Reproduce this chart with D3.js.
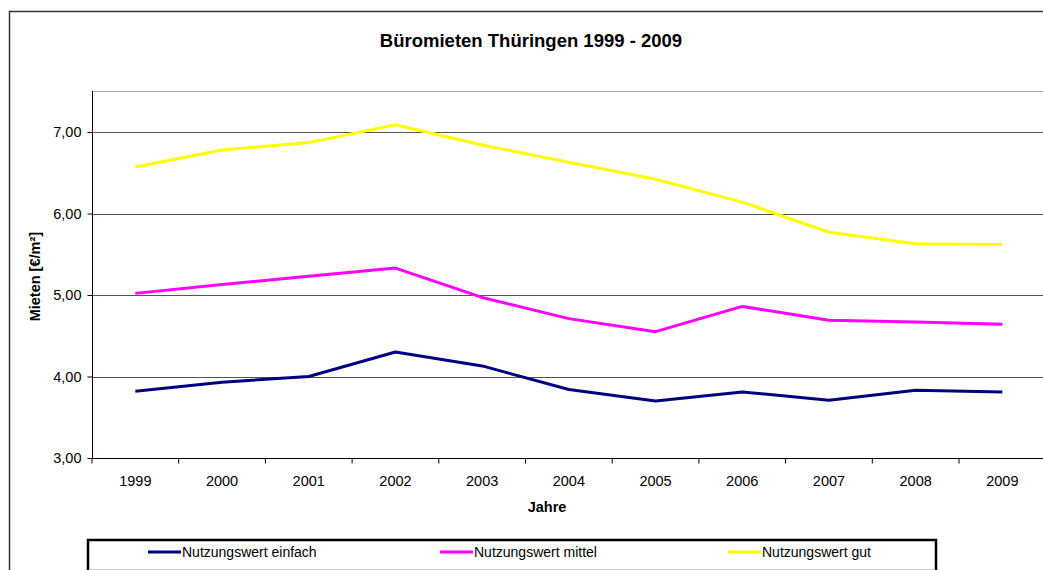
<!DOCTYPE html>
<html>
<head>
<meta charset="utf-8">
<script src="https://cdn.jsdelivr.net/npm/d3@7"></script>
<style>
  html, body { margin: 0; padding: 0; background: #fff; }
  svg { display: block; font-family: "Liberation Sans", Arial, sans-serif; }
</style>
</head>
<body>
<svg id="chart" width="1043" height="570"></svg>
<script>
const years = ["1999","2000","2001","2002","2003","2004","2005","2006","2007","2008","2009"];
const einfach = [3.82, 3.93, 4.00, 4.30, 4.13, 3.84, 3.70, 3.81, 3.71, 3.83, 3.81];
const mittel  = [5.02, 5.13, 5.23, 5.33, 4.97, 4.71, 4.55, 4.86, 4.69, 4.67, 4.64];
const gut     = [6.57, 6.78, 6.87, 7.09, 6.84, 6.63, 6.42, 6.14, 5.77, 5.63, 5.62];
const seriesNames = ["Nutzungswert einfach", "Nutzungswert mittel", "Nutzungswert gut"];
const seriesColors = ["#000080", "#FF00FF", "#FFFF00"];
const yTicks = [3, 4, 5, 6, 7];
const chartTitle = "Büromieten Thüringen 1999 - 2009";
const yTitle = "Mieten [€/m²]";
const xTitle = "Jahre";

(function () {
const svg = d3.select("#chart");
const pLeft = 92, pTop = 91.25, pBottom = 458, band = 86.7;
const pRight = pLeft + band * years.length;

const x = d3.scaleBand().domain(years).range([pLeft, pRight]).padding(0);
const y = d3.scaleLinear().domain([3, 7.5]).range([pBottom, pTop]);

// outer border
svg.append("rect").attr("x", 9.5).attr("y", 11.5).attr("width", 1100).attr("height", 700)
  .attr("fill", "none").attr("stroke", "#333").attr("stroke-width", 1.5);

// title
svg.append("text").attr("x", 531).attr("y", 47).attr("text-anchor", "middle")
  .attr("font-size", "18.5px").attr("font-weight", "bold").attr("fill", "#000").text(chartTitle);

// plot top border
svg.append("line").attr("x1", pLeft).attr("x2", pRight).attr("y1", Math.round(y(7.5)) + 0.5).attr("y2", Math.round(y(7.5)) + 0.5)
  .attr("stroke", "#aaa").attr("stroke-width", 1);

// gridlines
svg.append("g").selectAll("line").data(yTicks.filter(d => d > 3)).join("line")
  .attr("x1", pLeft).attr("x2", pRight)
  .attr("y1", d => Math.round(y(d)) + 0.5).attr("y2", d => Math.round(y(d)) + 0.5)
  .attr("stroke", "#555").attr("stroke-width", 1);

// y axis
const yAxis = d3.axisLeft(y).tickValues(yTicks).tickSize(5).tickPadding(6)
  .tickFormat(d => d3.format(".2f")(d).replace(".", ","));
const gy = svg.append("g").attr("transform", `translate(${pLeft + 0.5},0)`).call(yAxis);
gy.select(".domain").attr("stroke", "#000").attr("d", `M0,${pTop}V${pBottom}`);
gy.selectAll(".tick line").attr("stroke", "#000");
gy.selectAll(".tick text").attr("font-size", "14.5px").attr("fill", "#000")
  .attr("font-family", "Liberation Sans, Arial, sans-serif");

// x axis
const gx = svg.append("g").attr("transform", `translate(0,${pBottom + 0.5})`);
gx.append("line").attr("x1", pLeft).attr("x2", pRight).attr("stroke", "#000");
const bounds = d3.range(years.length + 1).map(i => pLeft + i * x.bandwidth());
gx.selectAll("line.tk").data(bounds).join("line").attr("class", "tk")
  .attr("x1", d => d).attr("x2", d => d).attr("y1", 0).attr("y2", 5).attr("stroke", "#000");
gx.selectAll("text").data(years).join("text")
  .attr("x", d => x(d) + x.bandwidth() / 2).attr("y", 27)
  .attr("text-anchor", "middle").attr("font-size", "14.5px").attr("fill", "#000").text(d => d);

// axis titles
svg.append("text").attr("transform", `translate(40,${(pTop + pBottom) / 2 + 2}) rotate(-90)`)
  .attr("text-anchor", "middle").attr("font-size", "14.5px").attr("font-weight", "bold").text(yTitle);
svg.append("text").attr("x", 547).attr("y", 512).attr("text-anchor", "middle")
  .attr("font-size", "14.5px").attr("font-weight", "bold").text(xTitle);

// lines
const line = d3.line().x((d, i) => x(years[i]) + x.bandwidth() / 2).y(d => y(d));
[einfach, mittel, gut].forEach((s, k) => {
  svg.append("path").datum(s).attr("d", line).attr("fill", "none")
    .attr("stroke", seriesColors[k]).attr("stroke-width", 3).attr("stroke-linejoin", "round");
});

// legend
svg.append("rect").attr("x", 88).attr("y", 540).attr("width", 848).attr("height", 40)
  .attr("fill", "#fff").attr("stroke", "#000").attr("stroke-width", 2.5);
svg.append("line").attr("x1", 90).attr("x2", 934).attr("y1", 569.5).attr("y2", 569.5)
  .attr("stroke", "#ccc");
const legX = [148, 440, 728];
seriesNames.forEach((n, k) => {
  const g = svg.append("g").attr("transform", `translate(${legX[k]},552)`);
  g.append("line").attr("x1", 0).attr("x2", 33).attr("y1", 0).attr("y2", 0)
    .attr("stroke", seriesColors[k]).attr("stroke-width", 3);
  g.append("text").attr("x", 34).attr("y", 5).attr("font-size", "14px").attr("fill", "#000").text(n);
});
})();
</script>
</body>
</html>
